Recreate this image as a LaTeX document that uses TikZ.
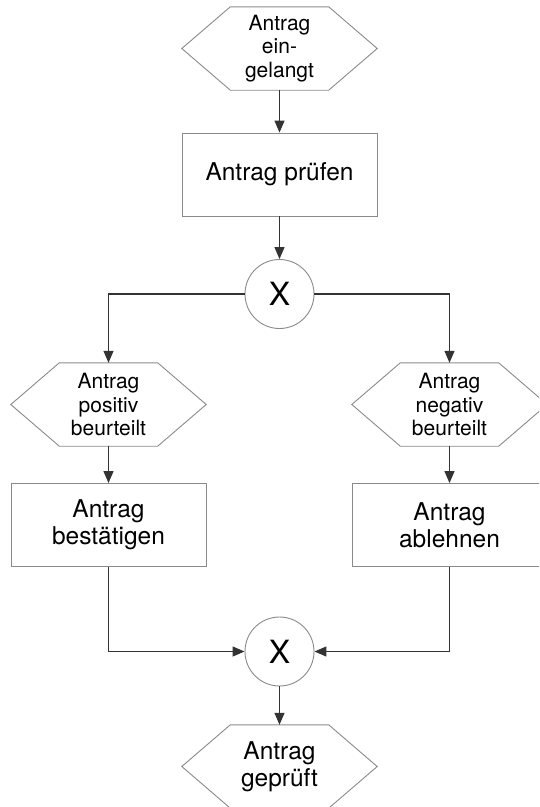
\documentclass[tikz,border=0pt]{standalone}
\usepackage{fontspec}
\setmainfont{TeX Gyre Heros}
\usetikzlibrary{arrows.meta}
\definecolor{bordergray}{HTML}{8A8A8A}
\definecolor{linegray}{HTML}{333333}
\tikzset{
  hexa/.style={minimum width=195pt, minimum height=83pt, inner sep=0pt, align=center,
    font=\fontsize{21}{23.5}\selectfont},
  hexb/.style={hexa, font=\fontsize{24.5}{27}\selectfont},
  taskbox/.style={draw=bordergray, line width=0.9pt, fill=white, minimum width=195pt,
    minimum height=83pt, inner sep=0pt, align=center, font=\fontsize{24.5}{27}\selectfont},
  xorgate/.style={draw=bordergray, line width=0.9pt, circle, minimum size=69pt, inner sep=0pt,
    font=\fontsize{32}{32}\selectfont},
  hexline/.style={draw=bordergray, line width=0.9pt},
  flow/.style={draw=linegray, line width=1.2pt, -{Triangle[length=12pt,width=10pt]}},
}
\newcommand\hexoutline[1]{%
  \draw[hexline] (#1.west) -- ([xshift=48.5pt]#1.north west) -- ([xshift=-48.5pt]#1.north east)
    -- (#1.east) -- ([xshift=-48.5pt]#1.south east) -- ([xshift=48.5pt]#1.south west) -- cycle;}
\begin{document}
\begin{tikzpicture}[x=1pt,y=-1pt]
\useasboundingbox (0,0) rectangle (539,807);
\clip (0,0) rectangle (539,807);
\node[hexa] (e1) at (279.5,48.5) {Antrag\\ein-\\gelangt};
\node[taskbox] (f1) at (279.5,174.5) {Antrag prüfen};
\node[xorgate] (x1) at (279.5,294) {X};
\node[hexa] (e2) at (108.5,404.5) {Antrag\\positiv\\beurteilt};
\node[hexa] (e3) at (449.5,404.5) {Antrag\\negativ\\beurteilt};
\node[taskbox] (f2) at (108.5,525) {Antrag\\bestätigen};
\node[taskbox] (f3) at (449.5,525) {Antrag\\ablehnen};
\node[xorgate] (x2) at (279.5,651.5) {X};
\node[hexb] (e4) at (279.5,766.5) {Antrag\\geprüft};
\hexoutline{e1}
\hexoutline{e2}
\hexoutline{e3}
\hexoutline{e4}
\draw[flow] (e1.south) -- (f1.north);
\draw[flow] (f1.south) -- (x1.north);
\draw[flow] (x1.west) -| (e2.north);
\draw[flow] (x1.east) -| (e3.north);
\draw[flow] (e2.south) -- (f2.north);
\draw[flow] (e3.south) -- (f3.north);
\draw[flow] (f2.south) |- (x2.west);
\draw[flow] (f3.south) |- (x2.east);
\draw[flow] (x2.south) -- (e4.north);
\end{tikzpicture}
\end{document}
